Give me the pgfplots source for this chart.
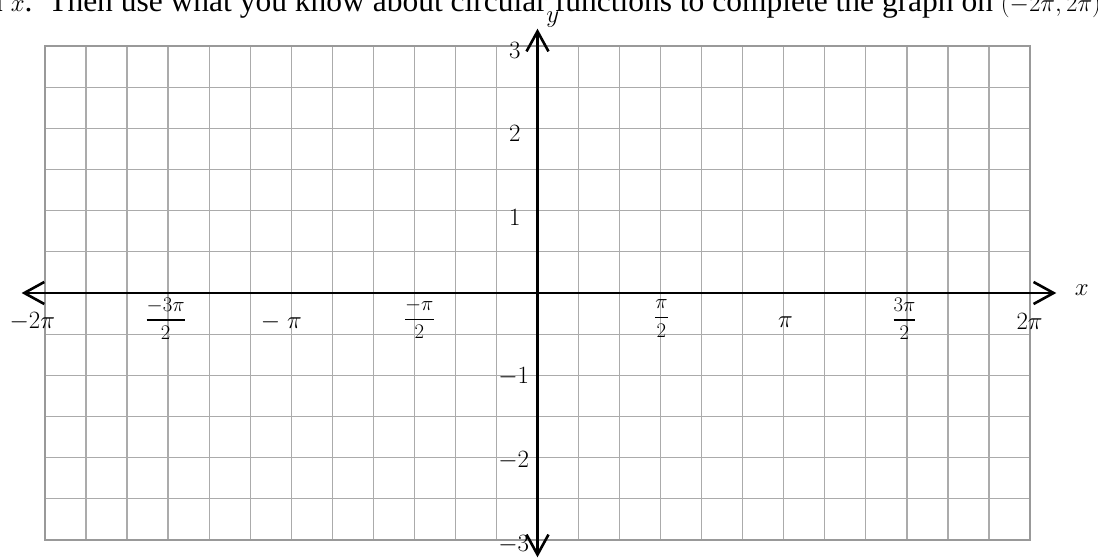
\documentclass[border=0pt]{standalone}
\usepackage{amsmath}
\usepackage{pgfplots}
\pgfplotsset{compat=1.18}
\usepackage{fontspec}
\setmainfont{Liberation Serif}
\usetikzlibrary{arrows.meta}
\newcommand\fr[2]{{\fontsize{21}{21}\selectfont$\genfrac{}{}{1.5pt}{0}{#1}{#2}$}}
\tikzset{lab/.style={font=\fontsize{25}{27}\selectfont, inner sep=0pt}}
\begin{document}
\begin{tikzpicture}[x=1pt,y=1pt]
\path[use as bounding box, clip] (0,0) rectangle (1098,559);
\node[anchor=base west, inner sep=0, font=\fontsize{31.5}{33}\selectfont] at (-13,547) {n $x$.\ \ Then use what you know about circular functions to complete the graph on $(-2\pi,2\pi)$.};
\begin{axis}[at={(45pt,19pt)}, anchor=south west, scale only axis,
  width=985pt, height=494pt,
  xmin=-12, xmax=12, ymin=-3, ymax=3,
  xtick={-12,...,12}, ytick={-3,-2.5,...,3},
  xticklabels={}, yticklabels={},
  major tick length=0pt,
  grid=major,
  major grid style={draw=black!33, line width=1.3pt},
  axis line style={draw=black!40, line width=1.3pt},
  clip=false]
\addplot[line width=2.6pt, {Straight Barb[length=20pt,width=22pt]}-{Straight Barb[length=20pt,width=22pt]}] coordinates {(-12.57,0) (12.64,0)};
\addplot[line width=2.6pt, {Straight Barb[length=20pt,width=22pt]}-{Straight Barb[length=20pt,width=22pt]}] coordinates {(0,-3.21) (0,3.21)};
% x labels
\node[lab] at (axis cs:-12.31,-0.35) {$-2\pi$};
\node[lab] at (axis cs:-9.06,-0.31) {\fr{-3\pi}{2}};
\node[lab] at (axis cs:-6.24,-0.35) {$-\;\pi$};
\node[lab] at (axis cs:-2.88,-0.31) {\fr{-\pi}{2}};
\node[lab] at (axis cs:3.02,-0.31) {\fr{\pi}{2}};
\node[lab] at (axis cs:6.04,-0.35) {$\pi$};
\node[lab] at (axis cs:8.94,-0.31) {\fr{3\pi}{2}};
\node[lab] at (axis cs:11.99,-0.35) {$2\pi$};
% y labels
\node[lab, anchor=east] at (axis cs:-0.41,2.95) {$3$};
\node[lab, anchor=east] at (axis cs:-0.41,1.94) {$2$};
\node[lab, anchor=east] at (axis cs:-0.41,0.92) {$1$};
\node[lab, anchor=east] at (axis cs:-0.20,-1.02) {$-1$};
\node[lab, anchor=east] at (axis cs:-0.20,-2.04) {$-2$};
\node[lab, anchor=east] at (axis cs:-0.20,-3.06) {$-3$};
% axis names
\node[lab, font=\fontsize{27}{29}\selectfont] at (axis cs:13.26,0.04) {$x$};
\node[lab, font=\fontsize{27}{29}\selectfont] at (axis cs:0.37,3.32) {$y$};
\end{axis}
\end{tikzpicture}
\end{document}
